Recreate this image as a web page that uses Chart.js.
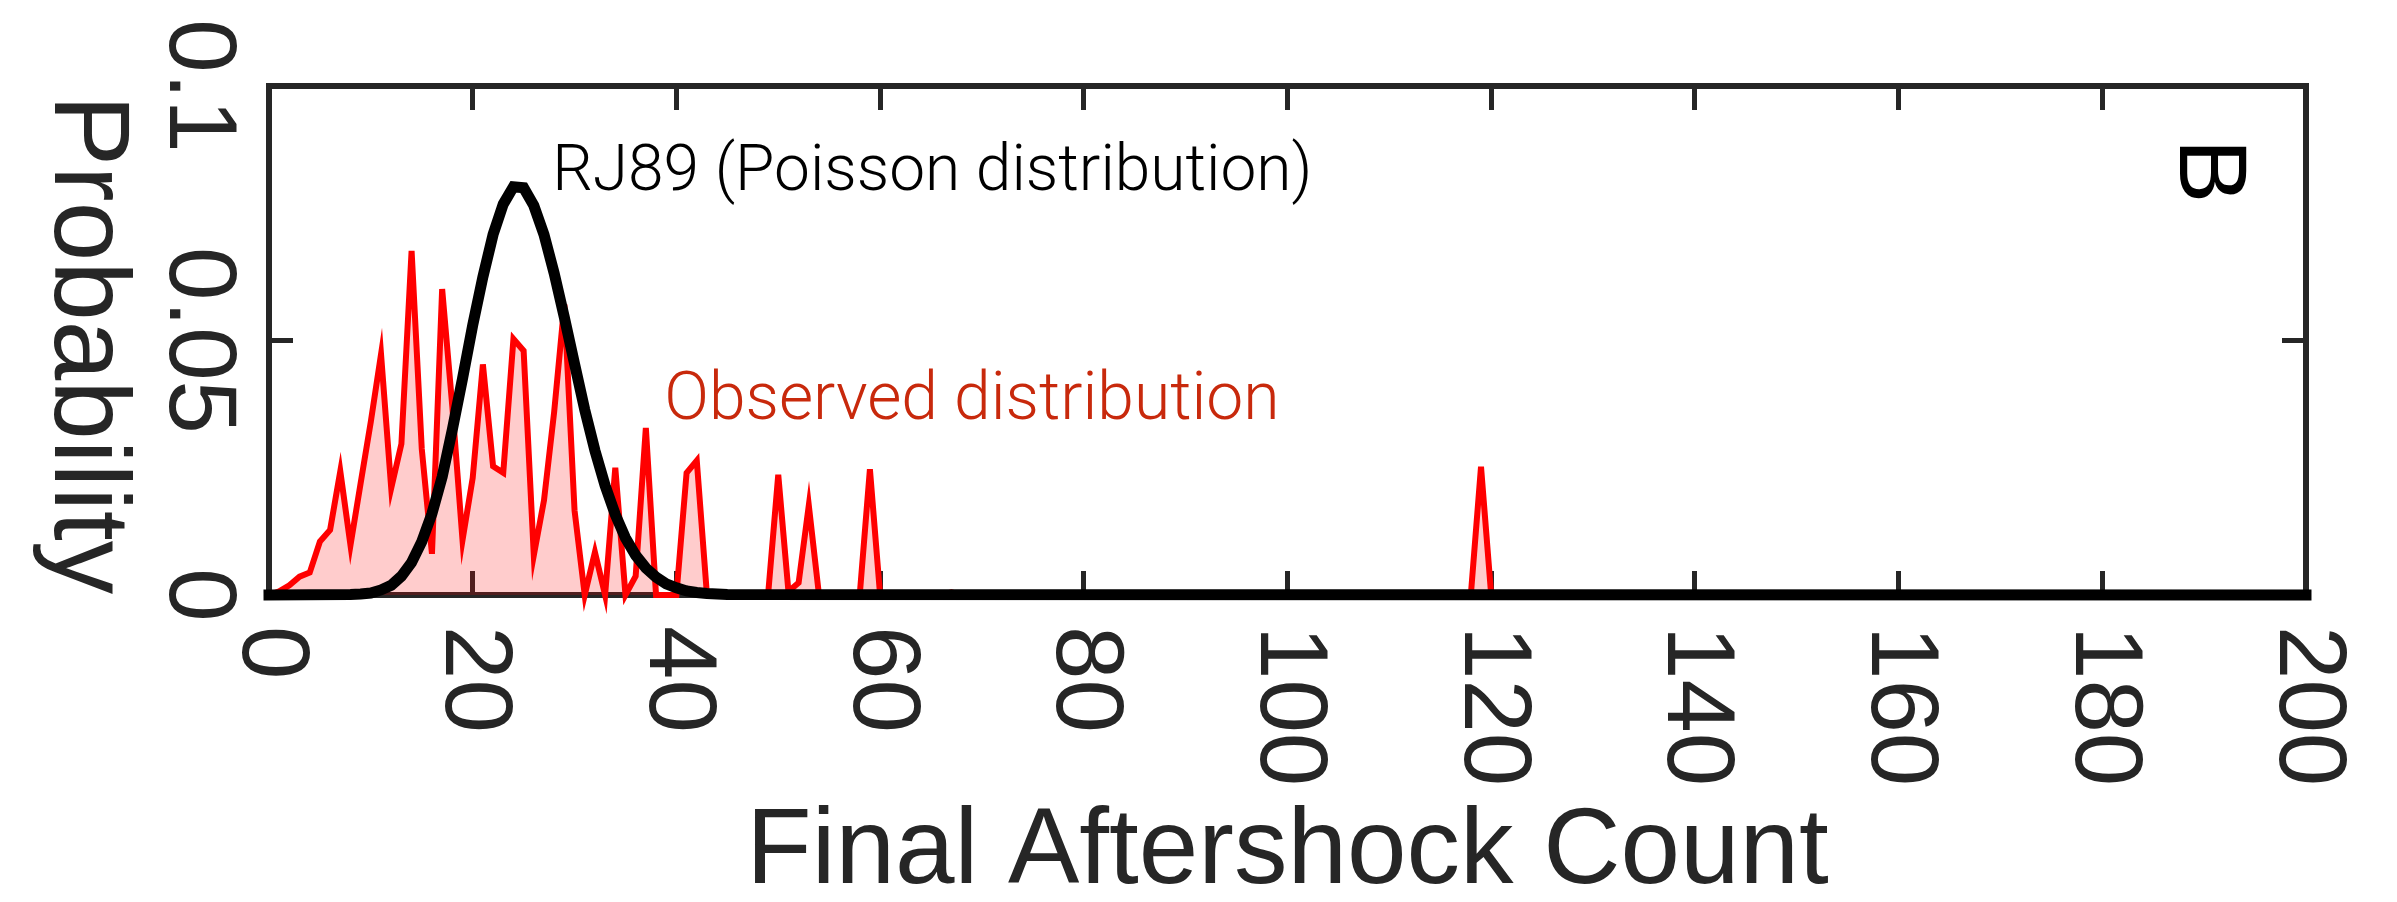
<!DOCTYPE html>
<html>
<head>
<meta charset="utf-8">
<script src="https://cdn.jsdelivr.net/npm/chart.js@4.4.1/dist/chart.umd.min.js"></script>
<style>
  html, body { margin: 0; padding: 0; background: #fff; }
  #wrap { width: 2397px; height: 902px; }
</style>
</head>
<body>
<div id="wrap"><canvas id="chart"></canvas></div>
<script>
// observed distribution of final aftershock counts (red)
const obsCounts = [0, 1, 2, 3, 4, 5, 6, 7, 8, 9, 10, 11, 12, 13, 14, 15, 16, 17, 18, 19,
  20, 21, 22, 23, 24, 25, 26, 27, 28, 29, 30, 31, 32, 33, 34, 35, 36, 37, 38, 39, 40,
  41, 42, 43, 49, 50, 51, 52, 53, 54, 58, 59, 60, 66, 67, 68, 118, 119, 120];
const obsProb = [0, 0.0007, 0.0019, 0.0036, 0.0044, 0.0105, 0.0128, 0.0243, 0.0098, 0.022,
  0.0341, 0.0473, 0.021, 0.0297, 0.0676, 0.0287, 0.0081, 0.0601, 0.037, 0.0108,
  0.023, 0.0453, 0.0253, 0.024, 0.0503, 0.048, 0.0078, 0.0186, 0.036, 0.0571,
  0.0166, 0, 0.0084, 0, 0.025, 0, 0.0037, 0.0328, 0, 0, 0,
  0.024, 0.0264, 0, 0, 0.0236, 0.0007, 0.0024, 0.0176, 0, 0, 0.0247, 0, 0, 0.0005, 0, 0, 0.0252, 0];

// RJ89 (Poisson) curve (black)
const rj89Counts = [0, 8, 9, 10, 11, 12, 13, 14, 15, 16, 17, 18, 19, 20, 21, 22, 23, 24, 25,
  26, 27, 28, 29, 30, 31, 32, 33, 34, 35, 36, 37, 38, 39, 40, 41, 42, 43, 44, 45, 200];
const rj89Prob = [0, 0.0001, 0.0002, 0.0004, 0.001, 0.0019, 0.0037, 0.0064, 0.0105, 0.016,
  0.0232, 0.0325, 0.0425, 0.053, 0.0625, 0.0708, 0.0768, 0.0802, 0.08,
  0.0765, 0.0708, 0.0632, 0.0545, 0.0454, 0.0364, 0.0284, 0.0215, 0.0158, 0.0112,
  0.0078, 0.0053, 0.0035, 0.0022, 0.0014, 0.0008, 0.0005, 0.0003, 0.0002, 0.0001, 0];

const xTickLabels = ['0', '20', '40', '60', '80', '100', '120', '140', '160', '180', '200'];
const yTickLabels = ['0', '0.05', '0.1'];

const AXIS = '#262626';
const FAMILY = '"Liberation Sans", Arial, Helvetica, sans-serif';
Chart.defaults.font.family = FAMILY;
Chart.defaults.color = AXIS;

function noPad(s) {
  s.paddingLeft = 0;
  s.paddingRight = 0;
  s.paddingTop = 0;
  s.paddingBottom = 0;
}

function boxAxis(extra) {
  return Object.assign({
    grid: {
      drawOnChartArea: false,
      drawTicks: true,
      tickLength: -24,
      tickWidth: 5,
      tickColor: AXIS
    },
    border: {display: true, color: AXIS, width: 6}
  }, extra);
}

// rotated tick labels read top to bottom
const labelFix = {
  id: 'labelFix',
  beforeDraw(chart) {
    chart.scales.x.getLabelItems().forEach((it) => {
      it.options.textAlign = 'left';
    });
    chart.scales.y.getLabelItems().forEach((it) => {
      it.options.textAlign = 'center';
    });
  }
};

function rotatedText(ctx, text, x, y, font, color) {
  ctx.save();
  ctx.font = font;
  ctx.fillStyle = color;
  ctx.translate(x, y);
  ctx.rotate(Math.PI / 2);
  ctx.textAlign = 'center';
  ctx.textBaseline = 'alphabetic';
  ctx.fillText(text, 0, 0);
  ctx.restore();
}

const notes = {
  id: 'notes',
  afterDraw(chart) {
    const {ctx, chartArea, scales: {x, y}} = chart;
    rotatedText(ctx, 'Probability', 55, (chartArea.top + chartArea.bottom) / 2 + 4,
        `107px ${FAMILY}`, AXIS);
    rotatedText(ctx, 'B', x.getPixelForValue(187.6), y.getPixelForValue(0.0833),
        `97px ${FAMILY}`, '#000');

    ctx.save();
    ctx.textAlign = 'left';
    ctx.textBaseline = 'alphabetic';
    ctx.font = `300 64px Roboto, ${FAMILY}`;
    ctx.fillStyle = '#000';
    ctx.fillText('RJ89 (Poisson distribution)', x.getPixelForValue(27.8), y.getPixelForValue(0.0796));
    ctx.font = `300 66px Roboto, ${FAMILY}`;
    ctx.fillStyle = '#c8290c';
    ctx.fillText('Observed distribution', x.getPixelForValue(38.8), y.getPixelForValue(0.0346));
    ctx.restore();
  }
};

new Chart(document.getElementById('chart'), {
  type: 'line',
  data: {
    datasets: [{
      label: 'RJ89 (Poisson distribution)',
      data: rj89Counts.map((c, i) => ({x: c, y: rj89Prob[i]})),
      borderColor: '#000',
      borderWidth: 11,
      borderCapStyle: 'square',
      pointRadius: 0,
      fill: false,
      tension: 0,
      clip: false,
      order: 0
    }, {
      label: 'Observed distribution',
      data: obsCounts.map((c, i) => ({x: c, y: obsProb[i]})),
      borderColor: '#ff0000',
      borderWidth: 6,
      borderJoinStyle: 'miter',
      backgroundColor: 'rgba(255, 0, 0, 0.2)',
      fill: 'origin',
      pointRadius: 0,
      tension: 0,
      clip: false,
      order: 1
    }]
  },
  options: {
    responsive: true,
    maintainAspectRatio: false,
    devicePixelRatio: 1,
    animation: false,
    layout: {padding: 0},
    plugins: {
      legend: {display: false},
      tooltip: {enabled: false}
    },
    scales: {
      x: boxAxis({
        type: 'linear',
        position: 'bottom',
        min: 0,
        max: 200,
        ticks: {
          stepSize: 20,
          autoSkip: false,
          minRotation: -90,
          maxRotation: -90,
          padding: 55,
          color: AXIS,
          font: {size: 96, lineHeight: 1},
          callback: (v, i) => xTickLabels[i]
        },
        title: {
          display: true,
          text: 'Final Aftershock Count',
          color: AXIS,
          font: {size: 107, lineHeight: 0.9},
          padding: {top: 0, bottom: 0}
        },
        afterFit: (s) => { s.height = 307; noPad(s); }
      }),
      x2: boxAxis({
        type: 'linear',
        position: 'top',
        min: 0,
        max: 200,
        ticks: {display: false, stepSize: 20},
        afterFit: (s) => { s.height = 86; noPad(s); }
      }),
      y: boxAxis({
        type: 'linear',
        position: 'left',
        min: 0,
        max: 0.1,
        ticks: {
          stepSize: 0.05,
          minRotation: -90,
          maxRotation: -90,
          padding: 97,
          color: AXIS,
          font: {size: 96, lineHeight: 1},
          callback: (v, i) => yTickLabels[i]
        },
        afterFit: (s) => { s.width = 269; noPad(s); }
      }),
      y2: boxAxis({
        type: 'linear',
        position: 'right',
        min: 0,
        max: 0.1,
        ticks: {display: false, stepSize: 0.05},
        afterFit: (s) => { s.height = undefined; s.width = 91; noPad(s); }
      })
    }
  },
  plugins: [labelFix, notes]
});
</script>
</body>
</html>
